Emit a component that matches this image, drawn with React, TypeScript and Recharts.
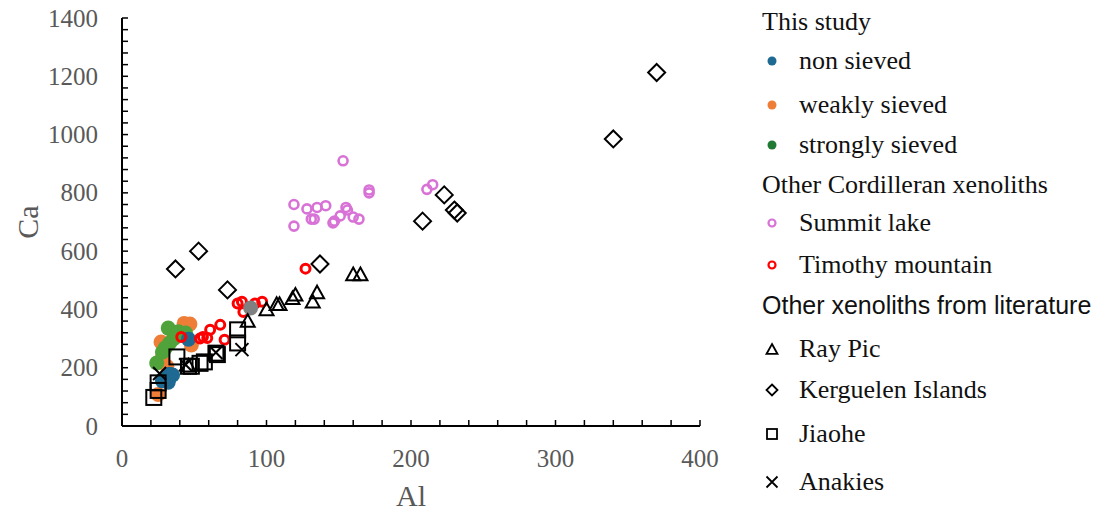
import React from 'react';
import { ScatterChart, Scatter, XAxis, YAxis } from 'recharts';

// Al vs Ca (ppm), [Al, Ca] pairs
const nonSieved = [[46, 298], [35, 175], [32, 150], [28, 155], [33, 178], [30, 165]];
const weaklySieved = [[43, 352], [27, 288], [48, 278], [25, 108], [28, 237], [31, 205], [47, 350], [36, 312]];
const stronglySieved = [[32, 336], [33, 285], [24, 216], [28, 254], [39, 323], [44, 319], [30, 268], [36, 300]];
const summitLake = [
  [153, 910], [171, 810], [171, 800], [119, 760], [128, 745], [135, 750], [141, 756],
  [119, 686], [131, 710], [133, 710], [147, 703], [146, 697], [151, 721], [155, 750],
  [156, 741], [160, 717], [164, 710], [211, 812], [215, 828],
];
const timothyMountain = [
  [41, 305], [54, 300], [59, 302], [56, 305], [61, 330], [68, 347], [71, 296],
  [80, 420], [83, 426], [84, 391], [92, 420], [97, 426], [127, 540],
];
const unlabelled = [[89, 405]];
const rayPic = [
  [46, 209], [87, 362], [100, 402], [107, 420], [109, 420], [118, 440], [120, 452],
  [132, 428], [135, 460], [160, 522], [165, 522],
];
const kerguelen = [
  [370, 1213], [340, 985], [223, 793], [230, 741], [232, 731], [208, 703],
  [37, 539], [53, 600], [73, 467], [137, 556],
];
const jiaohe = [
  [22, 98], [25, 122], [25, 148], [38, 237], [46, 205], [54, 215], [57, 220],
  [65, 250], [66, 245], [80, 330], [80, 285], [48, 205],
];
const anakies = [[26, 180], [83, 262], [65, 252], [44, 210]];

const xTicks = Array.from({ length: 21 }, (_, i) => i * 20);
const yTicks = Array.from({ length: 36 }, (_, i) => i * 40);

const toPoints = (arr: number[][]) => arr.map(([al, ca]) => ({ al, ca }));

const GREY = '#595959';
const SERIF = '"Liberation Serif", "Times New Roman", serif';

const BLUE = '#1F6A92';
const ORANGE = '#EE7D37';
const GREEN = '#4FA33A';
const PINK = '#D872D6';
const RED = '#FF0000';

const YTick = (props: any) => {
  const { x, y, payload } = props;
  const v = payload.value;
  return (
    <g>
      <line x1={x} x2={x + 6} y1={y} y2={y} stroke="#000" strokeWidth={1.5} />
      {v % 200 === 0 && (
        <text x={x - 24} y={y} textAnchor="end" dominantBaseline="central" fill={GREY} fontSize={25} fontFamily={SERIF}>
          {v}
        </text>
      )}
    </g>
  );
};

const XTick = (props: any) => {
  const { x, y, payload } = props;
  const v = payload.value;
  return (
    <g>
      <line x1={x} x2={x} y1={y} y2={y - 6} stroke="#000" strokeWidth={1.5} />
      {v % 100 === 0 && (
        <text x={x} y={y + 32} textAnchor="middle" dominantBaseline="central" fill={GREY} fontSize={25} fontFamily={SERIF}>
          {v}
        </text>
      )}
    </g>
  );
};

// marker shapes
const filledDot = (color: string, r: number) => (p: any) => (
  <circle cx={p.cx} cy={p.cy} r={r} fill={color} stroke="none" />
);
const ring = (color: string, r: number, w: number) => (p: any) => (
  <circle cx={p.cx} cy={p.cy} r={r} fill="none" stroke={color} strokeWidth={w} />
);
const triangle = (s: number, w: number) => (p: any) => {
  const h = s * 0.9;
  return (
    <path
      d={`M${p.cx},${p.cy - h / 2} L${p.cx + s / 2},${p.cy + h / 2} L${p.cx - s / 2},${p.cy + h / 2} Z`}
      fill="none" stroke="#000" strokeWidth={w} strokeLinejoin="miter"
    />
  );
};
const diamond = (s: number, w: number) => (p: any) => (
  <path
    d={`M${p.cx},${p.cy - s / 2} L${p.cx + s / 2},${p.cy} L${p.cx},${p.cy + s / 2} L${p.cx - s / 2},${p.cy} Z`}
    fill="none" stroke="#000" strokeWidth={w}
  />
);
const square = (s: number, w: number) => (p: any) => (
  <rect x={p.cx - s / 2} y={p.cy - s / 2} width={s} height={s} fill="none" stroke="#000" strokeWidth={w} />
);
const cross = (s: number, w: number) => (p: any) => (
  <path
    d={`M${p.cx - s / 2},${p.cy - s / 2} L${p.cx + s / 2},${p.cy + s / 2} M${p.cx + s / 2},${p.cy - s / 2} L${p.cx - s / 2},${p.cy + s / 2}`}
    fill="none" stroke="#000" strokeWidth={w}
  />
);

const legendRows: { label: string; top: number; header?: boolean; sans?: boolean; icon?: React.ReactNode }[] = [
  { label: 'This study', top: 22, header: true },
  { label: 'non sieved', top: 61, icon: filledDot(BLUE, 4.5)({ cx: 8, cy: 8 }) },
  { label: 'weakly sieved', top: 105, icon: filledDot(ORANGE, 4.5)({ cx: 8, cy: 8 }) },
  { label: 'strongly sieved', top: 145, icon: filledDot('#217A34', 4.5)({ cx: 8, cy: 8 }) },
  { label: 'Other Cordilleran xenoliths', top: 185, header: true },
  { label: 'Summit lake', top: 223, icon: ring(PINK, 3.5, 2.2)({ cx: 8, cy: 8 }) },
  { label: 'Timothy mountain', top: 265, icon: ring(RED, 3.5, 2.2)({ cx: 8, cy: 8 }) },
  { label: 'Other xenoliths from literature', top: 305, header: true, sans: true },
  { label: 'Ray Pic', top: 349, icon: triangle(11, 1.8)({ cx: 8, cy: 8 }) },
  { label: 'Kerguelen Islands', top: 390, icon: diamond(11, 1.8)({ cx: 8, cy: 8 }) },
  { label: 'Jiaohe', top: 434, icon: square(10, 1.8)({ cx: 8, cy: 8 }) },
  { label: 'Anakies', top: 482, icon: cross(11, 1.8)({ cx: 8, cy: 8 }) },
];

const ChartLegend = () => (
  <div style={{ position: 'absolute', left: 0, top: 0 }}>
    {legendRows.map((r) => (
      <div
        key={r.label}
        style={{
          position: 'absolute',
          top: r.top,
          left: r.header ? 762 : 764,
          transform: 'translateY(-50%)',
          display: 'flex',
          alignItems: 'center',
          whiteSpace: 'nowrap',
          fontFamily: r.sans ? '"Liberation Sans", Arial, sans-serif' : SERIF,
          fontSize: r.sans ? 25 : 26,
          color: '#111',
          lineHeight: 1,
        }}
      >
        {r.icon && (
          <svg width={16} height={16} style={{ marginRight: 19 }}>
            {r.icon}
          </svg>
        )}
        <span>{r.label}</span>
      </div>
    ))}
  </div>
);

export default function App() {
  return (
    <div style={{ position: 'absolute', left: 0, top: 0, width: 1103, height: 514, background: '#fff' }}>
      <ScatterChart width={1103} height={514} margin={{ top: 18, right: 403, bottom: 0, left: 0 }}>
        <XAxis
          type="number"
          dataKey="al"
          domain={[0, 400]}
          ticks={xTicks}
          interval={0}
          height={88}
          tickSize={0}
          tickMargin={0}
          tickLine={false}
          axisLine={{ stroke: '#000', strokeWidth: 2 }}
          tick={<XTick />}
          label={{
            content: ({ viewBox }: any) => (
              <text x={viewBox.x + viewBox.width / 2} y={495} textAnchor="middle" dominantBaseline="central"
                fill={GREY} fontSize={30} fontFamily={SERIF}>Al</text>
            ),
          }}
        />
        <YAxis
          type="number"
          dataKey="ca"
          domain={[0, 1400]}
          ticks={yTicks}
          interval={0}
          width={122}
          tickSize={0}
          tickMargin={0}
          tickLine={false}
          axisLine={{ stroke: '#000', strokeWidth: 2 }}
          tick={<YTick />}
          label={{
            content: ({ viewBox }: any) => {
              const cx = 27;
              const cy = viewBox.y + viewBox.height / 2;
              return (
                <text x={cx} y={cy} textAnchor="middle" dominantBaseline="central" transform={`rotate(-90 ${cx} ${cy})`}
                  fill={GREY} fontSize={30} fontFamily={SERIF}>Ca</text>
              );
            },
          }}
        />
        <Scatter name="weakly sieved" data={toPoints(weaklySieved)} shape={filledDot(ORANGE, 7.5)} isAnimationActive={false} />
        <Scatter name="strongly sieved" data={toPoints(stronglySieved)} shape={filledDot(GREEN, 7.5)} isAnimationActive={false} />
        <Scatter name="non sieved" data={toPoints(nonSieved)} shape={filledDot(BLUE, 7.5)} isAnimationActive={false} />
        <Scatter name="Summit lake" data={toPoints(summitLake)} shape={ring(PINK, 4.5, 2.6)} isAnimationActive={false} />
        <Scatter name="Timothy mountain" data={toPoints(timothyMountain)} shape={ring(RED, 4.5, 3)} isAnimationActive={false} />
        <Scatter name="unlabelled" data={toPoints(unlabelled)} shape={filledDot('#808080', 7.5)} isAnimationActive={false} />
        <Scatter name="Ray Pic" data={toPoints(rayPic)} shape={triangle(14, 2)} isAnimationActive={false} />
        <Scatter name="Kerguelen Islands" data={toPoints(kerguelen)} shape={diamond(17, 2)} isAnimationActive={false} />
        <Scatter name="Jiaohe" data={toPoints(jiaohe)} shape={square(15, 2)} isAnimationActive={false} />
        <Scatter name="Anakies" data={toPoints(anakies)} shape={cross(13, 2)} isAnimationActive={false} />
      </ScatterChart>
      <ChartLegend />
    </div>
  );
}
